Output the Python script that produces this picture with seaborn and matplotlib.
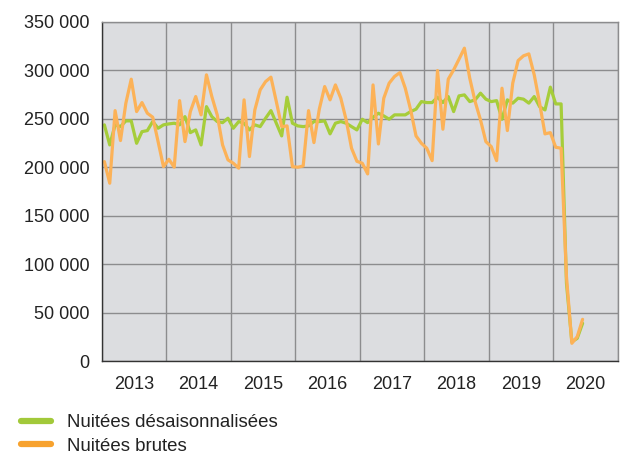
import numpy as np
import pandas as pd
import seaborn as sns
import matplotlib.pyplot as plt
from matplotlib.ticker import FixedLocator, FuncFormatter, NullFormatter
from matplotlib.lines import Line2D

# monthly values, Jan 2013 -> Jun 2020
desaison = [
    243600, 222900, 243600, 241800, 247700, 247700, 224600, 236600, 237700, 247000, 240100, 243600,
    244600, 245300, 243600, 252100, 235600, 238400, 222900, 262400, 252100, 247000, 245900, 250400,
    240100, 247000, 245300, 238400, 243600, 241800, 250400, 258300, 245300, 232200, 272100, 245300,
    242500, 241800, 242500, 247000, 247000, 247700, 234300, 245300, 247000, 245300, 241800, 238400,
    249400, 245900, 251500, 255600, 252800, 249400, 253900, 253900, 253900, 257300, 259800, 267600,
    266600, 266600, 272100, 266600, 272800, 257300, 273500, 274500, 267600, 269400, 276300, 270100,
    267600, 268600, 249400, 269400, 266000, 271100, 270100, 266000, 272800, 262400, 259000, 282500,
    265200, 265200, 80200, 19900, 23400, 38900,
]
brutes = [
    205700, 183400, 258300, 227400, 266000, 290700, 257300, 266600, 255600, 251500, 226300, 200500,
    208100, 200000, 268600, 226300, 257300, 272800, 253900, 295200, 272800, 253900, 222900, 207500,
    204000, 198900, 269400, 210900, 259000, 279700, 288200, 292800, 267600, 241800, 242500, 200500,
    199900, 201200, 258300, 225300, 259800, 283100, 269400, 284800, 271100, 248700, 219500, 206000,
    204000, 193000, 284800, 223900, 271100, 286600, 293500, 297500, 281400, 259000, 232200, 224600,
    219500, 206700, 299600, 239100, 290700, 300300, 311300, 322700, 291700, 267600, 248700, 226300,
    221200, 206700, 281400, 237700, 286600, 309900, 314800, 316800, 295200, 266000, 234300, 235600,
    220500, 219500, 87000, 18300, 25100, 43000,
]
years = [2013, 2014, 2015, 2016, 2017, 2018, 2019, 2020]
series_names = ['Nuitées désaisonnalisées', 'Nuitées brutes']

t = [2013 + (i + 0.5) / 12 for i in range(len(brutes))]
df = pd.DataFrame({
    't': t * 2,
    'val': desaison + brutes,
    'serie': [series_names[0]] * len(t) + [series_names[1]] * len(t),
})

sns.set_style('white')
plt.rcParams['font.family'] = ['Liberation Sans', 'DejaVu Sans']

fig = plt.figure(figsize=(6.2, 4.57), dpi=100)
ax = fig.add_axes([0.164, 0.21, 0.832, 0.7425])
ax.set_facecolor('#dcdde0')

line_cols = {series_names[0]: '#a6cd3a', series_names[1]: '#fcb258'}
sns.lineplot(data=df, x='t', y='val', hue='serie', palette=line_cols,
             linewidth=2.3, ax=ax, legend=False)

ax.set_xlim(2013, 2021)
ax.set_ylim(0, 350000)
ax.xaxis.set_major_locator(FixedLocator(list(range(2013, 2022))))
ax.xaxis.set_major_formatter(NullFormatter())
ax.xaxis.set_minor_locator(FixedLocator([y + 0.5 for y in years]))
ax.xaxis.set_minor_formatter(FuncFormatter(lambda v, p: str(int(v))))
ax.yaxis.set_major_locator(FixedLocator(list(range(0, 350001, 50000))))
ax.yaxis.set_major_formatter(FuncFormatter(lambda v, p: f'{int(v):,}'.replace(',', ' ')))

ax.tick_params(axis='x', which='major', direction='out', length=11, width=1, color='#333333')
ax.tick_params(axis='x', which='minor', length=0, labelsize=13, pad=11, labelcolor='#222222')
ax.tick_params(axis='y', direction='out', length=6, width=1, color='#333333',
               labelsize=13, labelcolor='#222222', pad=3)

ax.grid(True, which='major', color='#8c8c8e', linewidth=1)
ax.set_axisbelow(True)
for s in ['top', 'right']:
    ax.spines[s].set_color('#8c8c8e')
    ax.spines[s].set_linewidth(1)
for s in ['left', 'bottom']:
    ax.spines[s].set_color('#333333')
    ax.spines[s].set_linewidth(1)
ax.set_xlabel('')
ax.set_ylabel('')

handles = [Line2D([], [], color='#a2c93a', linewidth=4.5),
           Line2D([], [], color='#f7a22e', linewidth=4.5)]
fig.legend(handles, series_names, loc='upper left', bbox_to_anchor=(0.034, 0.094),
           frameon=False, fontsize=13.4, handlelength=1.6, handletextpad=0.85,
           labelspacing=0.36, borderaxespad=0, borderpad=0, labelcolor='#222222')

fig.savefig('out.png', dpi=100)
